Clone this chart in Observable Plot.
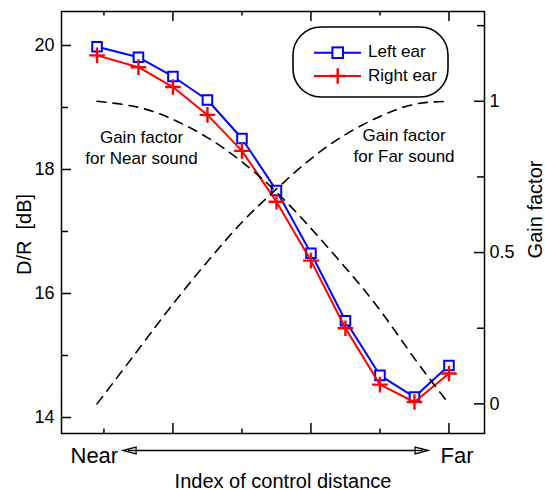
<!DOCTYPE html>
<html><head><meta charset="utf-8">
<script src="https://cdn.jsdelivr.net/npm/d3@7"></script>
<script src="https://cdn.jsdelivr.net/npm/@observablehq/plot@0.6"></script>
<style>
body{margin:0;background:#fff;}
#chart{position:relative;width:545px;height:490px;}
</style></head><body><div id="chart"></div>
<script>
// ---- data ----
const controlIndex = [-0.2, 1, 2, 3, 4, 5, 6, 7, 8, 9, 10];
const leftEar  = [19.98, 19.81, 19.50, 19.12, 18.50, 17.66, 16.65, 15.56, 14.68, 14.33, 14.84];
const rightEar = [19.84, 19.65, 19.33, 18.88, 18.30, 17.48, 16.53, 15.44, 14.53, 14.25, 14.71];
const gainNear = [1, 0.98, 0.94, 0.88, 0.80, 0.70, 0.58, 0.45, 0.31, 0.15, 0];
const gainFar  = [0, 0.18, 0.33, 0.47, 0.60, 0.71, 0.81, 0.89, 0.95, 0.99, 1];
const drTicks = [14, 16, 18, 20];
const drMinorTicks = [15, 17, 19];
const gainTicks = [0, 0.5, 1];
const gainTickLabels = ["0", "0.5", "1"];
const gainMinorTicks = [0.25, 0.75, 1.25];
const xLongTicks = [2, 6, 10];
const xShortTicks = [0, 4, 8];
const seriesNames = ["Left ear", "Right ear"];
const endLabels = ["Near", "Far"];
const nearLabel = "Gain factor\nfor Near sound";
const farLabel = "Gain factor\nfor Far sound";

// ---- layout ----
const W = 545, H = 490;
const M = {top: 11, right: 61, bottom: 57, left: 61};
const plotW = W - M.left - M.right, plotH = H - M.top - M.bottom;
const FONT = "'Liberation Sans', Arial, Helvetica, sans-serif";
// right axis (gain factor) aligned with left axis (dB)
const gain0dB = 14.22, gain1dB = 19.10;
const g2dB = g => gain0dB + g * (gain1dB - gain0dB);

const rows = controlIndex.map((x, i) => ({
  x, left: leftEar[i], right: rightEar[i],
  near: g2dB(gainNear[i]), far: g2dB(gainFar[i])
}));

const BLUE = "#0000ff", RED = "#ff0000";
const txt = {fill: "black", textAnchor: "middle", lineAnchor: "middle"};

const plot = Plot.plot({
  width: W, height: H,
  marginTop: M.top, marginRight: M.right, marginBottom: M.bottom, marginLeft: M.left,
  x: {domain: [-1.23, 11.03], axis: null},
  y: {domain: [13.742, 20.548], axis: null},
  style: {fontFamily: FONT, fontSize: "18px", color: "black", background: "white", overflow: "visible"},
  marks: [
    // data lines & markers
    Plot.line(rows, {x: "x", y: "left", stroke: BLUE, strokeWidth: 2}),
    Plot.dot(rows, {x: "x", y: "left", symbol: "square", r: 5.4, stroke: BLUE, strokeWidth: 2, fill: "white"}),
    Plot.line(rows, {x: "x", y: "right", stroke: RED, strokeWidth: 2}),
    Plot.dot(rows, {x: "x", y: "right", symbol: "plus", r: 5.1, stroke: RED, strokeWidth: 2.4}),
    // gain factor curves
    Plot.line(rows, {x: "x", y: "near", curve: "natural", stroke: "black", strokeWidth: 1.6, strokeDasharray: "9,7"}),
    Plot.line(rows, {x: "x", y: "far", curve: "natural", stroke: "black", strokeWidth: 1.6, strokeDasharray: "9,7"}),
    // frame
    Plot.frame({stroke: "black", strokeWidth: 1.5}),
    // left ticks (inward)
    Plot.tickY(drTicks, {y: d => d, insetRight: plotW - 10, stroke: "black", strokeWidth: 1.5}),
    Plot.tickY(drMinorTicks, {y: d => d, insetRight: plotW - 7, stroke: "black", strokeWidth: 1.5}),
    // right ticks (inward)
    Plot.tickY(gainTicks, {y: d => g2dB(d), insetLeft: plotW - 10, stroke: "black", strokeWidth: 1.5}),
    Plot.tickY(gainMinorTicks, {y: d => g2dB(d), insetLeft: plotW - 7, stroke: "black", strokeWidth: 1.5}),
    // bottom & top ticks (inward)
    Plot.tickX(xLongTicks, {x: d => d, insetTop: plotH - 10, stroke: "black", strokeWidth: 1.5}),
    Plot.tickX(xShortTicks, {x: d => d, insetTop: plotH - 4.5, stroke: "black", strokeWidth: 1.5}),
    Plot.tickX(xLongTicks, {x: d => d, insetBottom: plotH - 10, stroke: "black", strokeWidth: 1.5}),
    Plot.tickX(xShortTicks, {x: d => d, insetBottom: plotH - 4.5, stroke: "black", strokeWidth: 1.5}),
    // tick labels
    Plot.text(drTicks, {...txt, y: d => d, frameAnchor: "left", textAnchor: "end", dx: -7, text: d => String(d), fontSize: 18}),
    Plot.text(gainTicks, {...txt, y: d => g2dB(d), frameAnchor: "right", textAnchor: "start", dx: 5, text: (d, i) => gainTickLabels[i], fontSize: 18}),
    // axis titles
    Plot.text(["D/R \u00a0[dB]"], {...txt, frameAnchor: "left", rotate: -90, dx: -37, dy: 12, fontSize: 20}),
    Plot.text(["Gain factor"], {...txt, frameAnchor: "right", rotate: -90, dx: 51, dy: -13, fontSize: 20}),
    Plot.text(["Index of control distance"], {...txt, frameAnchor: "bottom", dx: 10, dy: 47.6, fontSize: 20}),
    Plot.text([endLabels[0]], {...txt, frameAnchor: "bottom-left", textAnchor: "start", dx: 9, dy: 22.6, fontSize: 22}),
    Plot.text([endLabels[1]], {...txt, frameAnchor: "bottom-right", textAnchor: "end", dx: -11, dy: 22.4, fontSize: 22}),
    // curve annotations
    Plot.text([nearLabel], {...txt, frameAnchor: "top-left", dx: 80, dy: 135.6, fontSize: 17, lineHeight: 1.18}),
    Plot.text([farLabel], {...txt, frameAnchor: "top-left", dx: 342.5, dy: 133.6, fontSize: 17, lineHeight: 1.18})
  ]
});

document.getElementById("chart").appendChild(plot);

// ---- decorations: double arrow under the x axis ----
const svg = d3.select(plot);
const xs = plot.scale("x");
const ax1 = xs.apply(0.57), ax2 = xs.apply(9.41);
const ay = H - M.bottom + 17.5;
const arr = svg.append("g").attr("stroke", "black").attr("stroke-width", 1.3);
arr.append("line").attr("x1", ax1 + 12).attr("x2", ax2 - 12).attr("y1", ay).attr("y2", ay);
arr.append("path").attr("fill", "white")
  .attr("d", `M${ax1},${ay} L${ax1 + 13},${ay - 3.5} L${ax1 + 13},${ay + 3.5} Z`);
arr.append("path").attr("fill", "white")
  .attr("d", `M${ax2},${ay} L${ax2 - 13},${ay - 3.5} L${ax2 - 13},${ay + 3.5} Z`);
arr.append("line").attr("x1", ax1 + 5).attr("x2", ax1 + 13).attr("y1", ay).attr("y2", ay);
arr.append("line").attr("x1", ax2 - 5).attr("x2", ax2 - 13).attr("y1", ay).attr("y2", ay);

// ---- legend ----
const lg = svg.append("g").attr("transform", `translate(${W - M.right - 36 - 155},${M.top + 16})`);
lg.append("rect").attr("width", 155).attr("height", 70).attr("rx", 28).attr("ry", 28)
  .attr("fill", "white").attr("stroke", "black").attr("stroke-width", 1.6);
const rowsY = [25.7, 49];
const colors = [BLUE, RED];
seriesNames.forEach((name, i) => {
  const y = rowsY[i];
  lg.append("line").attr("x1", 21).attr("x2", 68).attr("y1", y).attr("y2", y)
    .attr("stroke", colors[i]).attr("stroke-width", 2);
  if (i === 0) {
    lg.append("rect").attr("x", 44.7 - 5.3).attr("y", y - 5.3).attr("width", 10.6).attr("height", 10.6)
      .attr("fill", "white").attr("stroke", BLUE).attr("stroke-width", 2);
  } else {
    lg.append("path").attr("d", `M${44.7 - 7.8},${y} h15.6 M44.7,${y - 7.8} v15.6`)
      .attr("stroke", RED).attr("stroke-width", 2.4);
  }
  lg.append("text").attr("x", 75).attr("y", y + 4.6 + (i ? 0.4 : 0))
    .attr("text-anchor", "start")
    .attr("font-family", FONT).attr("font-size", 17).attr("fill", "black").text(name);
});
</script></body></html>
